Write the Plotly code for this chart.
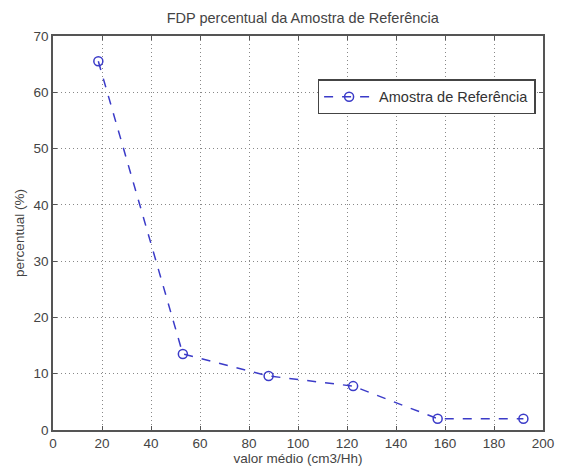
import plotly.graph_objects as go

x_vals = [18.5, 53, 88, 122.5, 157, 192]
y_vals = [65.5, 13.5, 9.6, 7.8, 2.0, 2.0]
x_ticks = [0, 20, 40, 60, 80, 100, 120, 140, 160, 180, 200]
y_ticks = [0, 10, 20, 30, 40, 50, 60, 70]
series_name = "Amostra de Referência"

fig = go.Figure()
fig.add_trace(go.Scatter(
    x=x_vals, y=y_vals, mode="lines+markers", name=series_name,
    line=dict(color="#3b3bc8", width=1.5, dash="dash"),
    marker=dict(symbol="circle-open", size=9, color="#3b3bc8", line=dict(width=1.5)),
))

axis_common = dict(
    showline=True, linecolor="#555", linewidth=1.5, mirror="ticks",
    ticks="inside", ticklen=4, tickcolor="#555",
    showgrid=True, gridcolor="#888", griddash="1px,3px", gridwidth=1,
    zeroline=False, tickfont=dict(family="Arial", size=13.5, color="#444"),
)

fig.update_layout(
    width=566, height=475,
    margin=dict(l=53, r=18, t=36, b=45),
    paper_bgcolor="white", plot_bgcolor="white",
    title=dict(text="FDP percentual da Amostra de Referência", x=0.535, xanchor="center",
               y=0.962, yanchor="middle", font=dict(family="Arial", size=14.5, color="#444")),
    xaxis=dict(range=[0, 200], tickvals=x_ticks,
               title=dict(text="valor médio (cm3/Hh)", standoff=2,
                          font=dict(family="Arial", size=13.5, color="#444")),
               **axis_common),
    yaxis=dict(range=[0, 70], tickvals=y_ticks,
               title=dict(text="percentual (%)", standoff=6,
                          font=dict(family="Arial", size=13.5, color="#444")),
               **axis_common),
    showlegend=True,
    legend=dict(x=0.54, y=0.89, xanchor="left", yanchor="top",
                bordercolor="#444", borderwidth=1.5, bgcolor="white",
                itemwidth=50,
                font=dict(family="Arial", size=14.5, color="#333")),
)

fig.write_html("out.html")
